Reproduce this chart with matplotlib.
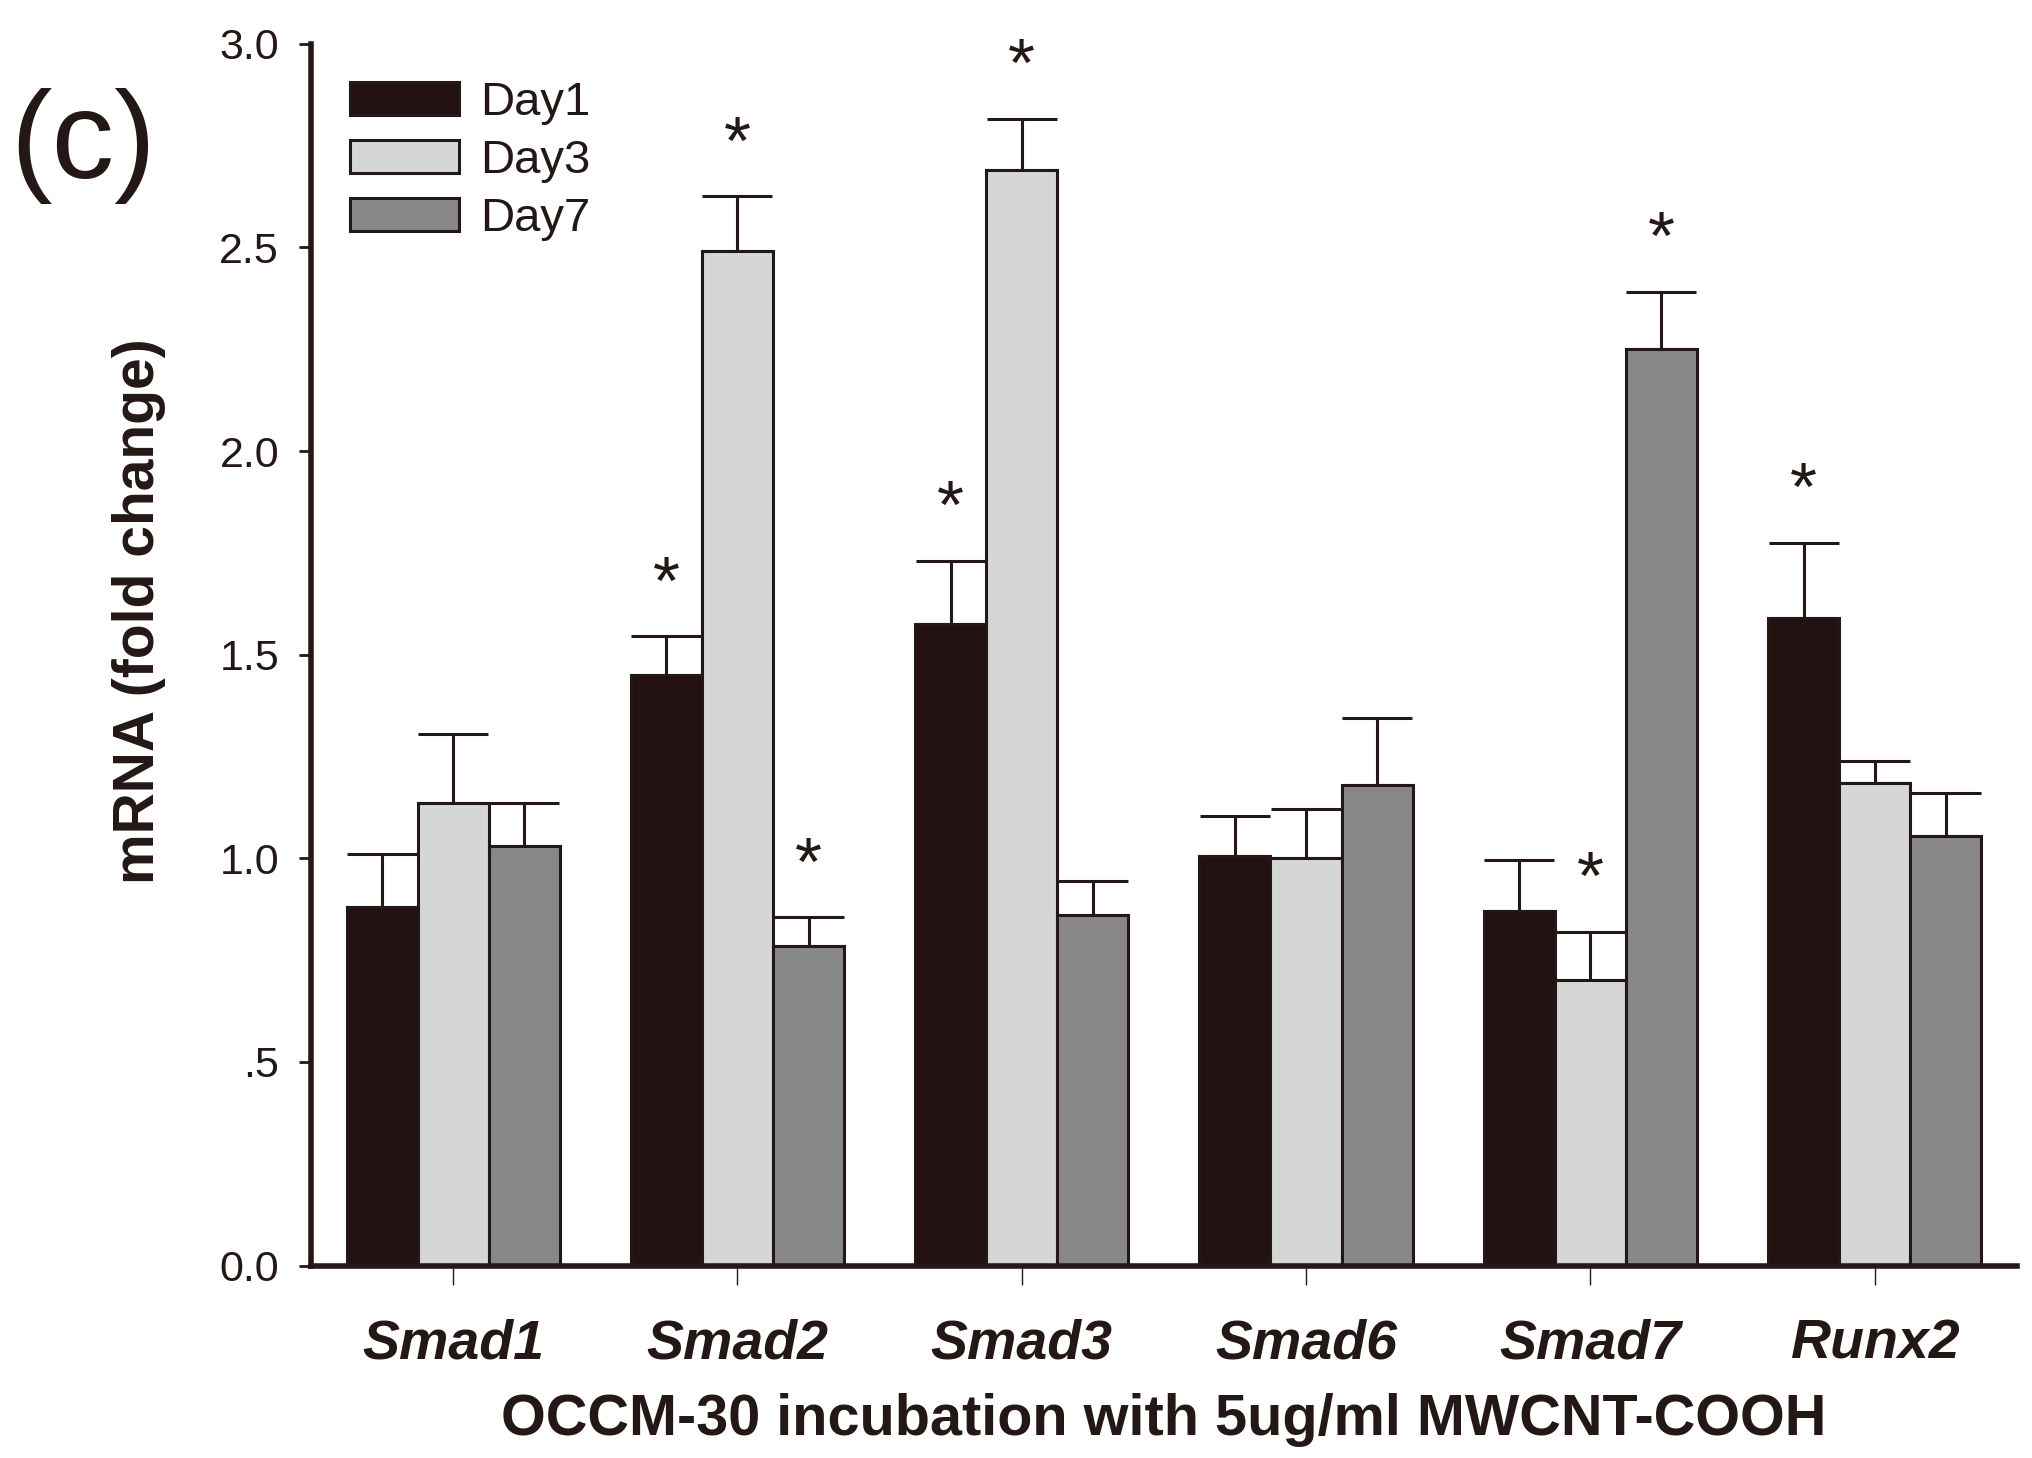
import numpy as np
import matplotlib.pyplot as plt

plt.rcParams["font.family"] = ["Liberation Sans", "DejaVu Sans"]

genes = ["Smad1", "Smad2", "Smad3", "Smad6", "Smad7", "Runx2"]
days = ["Day1", "Day3", "Day7"]

day1 = [0.88, 1.45, 1.575, 1.005, 0.87, 1.59]
day1_err = [0.13, 0.095, 0.155, 0.10, 0.125, 0.185]
day3 = [1.135, 2.49, 2.69, 1.0, 0.70, 1.185]
day3_err = [0.17, 0.135, 0.125, 0.12, 0.12, 0.055]
day7 = [1.03, 0.785, 0.86, 1.18, 2.25, 1.055]
day7_err = [0.105, 0.07, 0.085, 0.165, 0.14, 0.105]

# significant vs control (*)
day1_sig = [0, 1, 1, 0, 0, 1]
day3_sig = [0, 1, 1, 0, 1, 0]
day7_sig = [0, 1, 0, 0, 1, 0]

colors = ["#231010", "#d5d6d6", "#888888"]
edge = "#231815"

fig = plt.figure(figsize=(20.33, 14.58), dpi=100)
ax = fig.add_axes([0.153, 0.132, 0.839, 0.838])

x = np.arange(len(genes))
w = 0.25
series = [(day1, day1_err, day1_sig), (day3, day3_err, day3_sig), (day7, day7_err, day7_sig)]
for i, (vals, errs, sig) in enumerate(series):
    pos = x + (i - 1) * w
    ax.bar(pos, vals, w, color=colors[i], edgecolor=edge, linewidth=2.2,
           label=days[i], zorder=2)
    ax.errorbar(pos, vals, yerr=[np.zeros(len(vals)), errs], fmt="none",
                ecolor=edge, elinewidth=2.2, capsize=25, capthick=2.2, zorder=1)
    for p, v, e, s in zip(pos, vals, errs, sig):
        if s:
            ax.text(p, v + e + 0.125, "*", ha="center", va="center",
                    fontsize=50, color=edge)

ax.set_xlim(-0.5, 5.5)
ax.set_ylim(0, 3.0)
ax.set_yticks([0, 0.5, 1.0, 1.5, 2.0, 2.5, 3.0])
ax.set_yticklabels(["0.0", ".5", "1.0", "1.5", "2.0", "2.5", "3.0"])
ax.set_xticks(x)
ax.set_xticklabels(genes, fontsize=40, fontweight="bold", fontstyle="italic")

ax.spines["top"].set_visible(False)
ax.spines["right"].set_visible(False)
ax.spines["left"].set_linewidth(4)
ax.spines["bottom"].set_linewidth(4)
ax.spines["left"].set_color(edge)
ax.spines["bottom"].set_color(edge)
ax.tick_params(axis="y", labelsize=31, length=9, width=2, color=edge, labelcolor=edge, pad=14)
ax.tick_params(axis="x", length=14, width=1, color=edge, labelcolor=edge, pad=24)

ax.set_xlabel("OCCM-30 incubation with 5ug/ml MWCNT-COOH", fontsize=41.5,
              fontweight="bold", color=edge, labelpad=16)
ax.set_ylabel("mRNA (fold change)", fontsize=41, fontweight="bold", color=edge)
ax.yaxis.set_label_coords(-0.085, 0.536)

leg = ax.legend(loc="upper left", bbox_to_anchor=(0.012, 0.985), frameon=False,
                fontsize=34, handlelength=2.3, handleheight=0.7, labelspacing=0.3,
                handletextpad=0.45, borderaxespad=0)
for t in leg.get_texts():
    t.set_color(edge)

fig.text(0.005, 0.90, "(c)", fontsize=90, color=edge, ha="left", va="center")

fig.savefig("out.png", dpi=100)
